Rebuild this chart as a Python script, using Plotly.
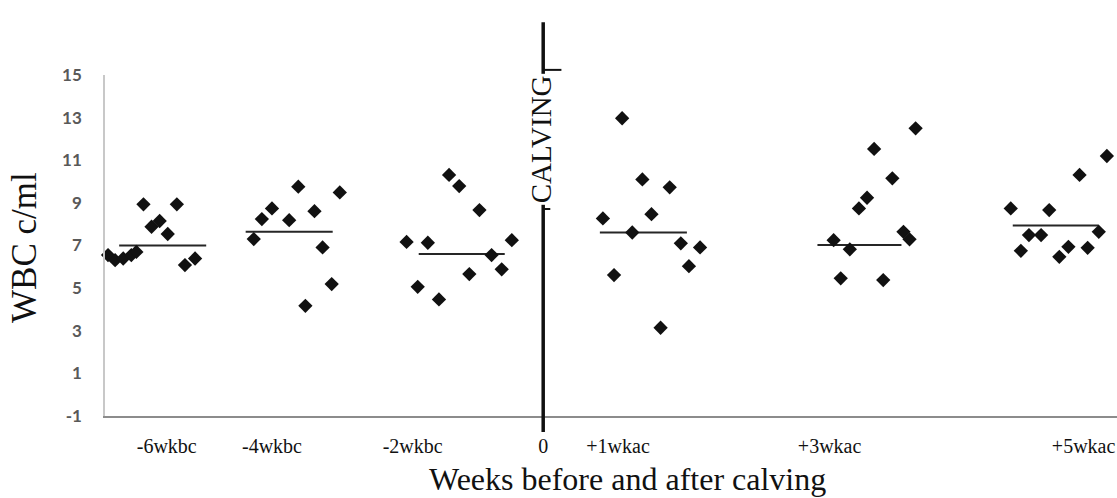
import plotly.graph_objects as go

# ---- data ----
group_names = ["-6wkbc", "-4wkbc", "-2wkbc", "+1wkac", "+3wkac", "+5wkac"]

g1_x = [3.8, 7.1, 4.6, 5.4, 6.2, 0.3, 1.0, 1.8, 2.6, 3.1, 7.9, 8.9]
g1_y = [8.93, 8.93, 7.88, 8.15, 7.54, 6.55, 6.31, 6.39, 6.55, 6.70, 6.08, 6.39]
g2_x = [19.1, 23.2, 16.5, 15.5, 18.2, 20.7, 14.7, 21.5, 22.4, 19.8]
g2_y = [9.76, 9.49, 8.74, 8.24, 8.19, 8.61, 7.30, 6.91, 5.19, 4.17]
g3_x = [34.0, 35.0, 37.0, 29.8, 31.9, 38.2, 40.2, 39.2, 36.0, 30.9, 33.0]
g3_y = [10.31, 9.79, 8.66, 7.17, 7.13, 6.55, 7.25, 5.88, 5.66, 5.06, 4.47]
g4_x = [51.1, 53.1, 55.8, 49.2, 54.0, 52.1, 56.9, 58.8, 57.7, 50.3, 54.9]
g4_y = [12.97, 10.10, 9.73, 8.27, 8.47, 7.61, 7.10, 6.91, 6.03, 5.61, 3.14]
g5_x = [80.1, 76.0, 77.8, 75.3, 74.5, 78.9, 79.5, 72.0, 73.6, 72.7, 76.9]
g5_y = [12.50, 11.53, 10.15, 9.24, 8.74, 7.64, 7.29, 7.25, 6.82, 5.46, 5.38]
g6_x = [99.0, 96.3, 89.5, 93.3, 91.3, 92.5, 98.2, 90.5, 95.2, 94.3, 97.1]
g6_y = [11.20, 10.31, 8.74, 8.66, 7.49, 7.49, 7.64, 6.75, 6.94, 6.47, 6.89]

mean_values = [7.0, 7.64, 6.60, 7.61, 7.02, 7.94]
mean_x_start = [1.4, 13.9, 31.0, 48.9, 70.4, 89.7]
mean_x_end = [10.0, 22.5, 39.5, 57.5, 78.7, 98.2]

calving_x = 43.3
tick_positions = [6.1, 16.5, 30.4, 43.3, 50.7, 71.6, 96.7]
tick_labels = ["-6wkbc", "-4wkbc", "-2wkbc", "0", "+1wkac", "+3wkac", "+5wkac"]
y_ticks = [-1, 1, 3, 5, 7, 9, 11, 13, 15]
y_tick_labels = ["-1", "1", "3", "5", "7", "9", "11", "13", "15"]

groups_x = [g1_x, g2_x, g3_x, g4_x, g5_x, g6_x]
groups_y = [g1_y, g2_y, g3_y, g4_y, g5_y, g6_y]

fig = go.Figure()

for name, gx, gy, m, xs, xe in zip(group_names, groups_x, groups_y,
                                   mean_values, mean_x_start, mean_x_end):
    fig.add_trace(go.Scatter(
        x=[xs, xe], y=[m, m], mode="lines",
        line=dict(color="#262626", width=2),
        showlegend=False, hoverinfo="skip"))
    fig.add_trace(go.Scatter(
        x=gx, y=gy, mode="markers", name=name,
        marker=dict(symbol="diamond", size=11, color="#111111"),
        cliponaxis=False, showlegend=False))

# calving line
fig.add_shape(type="line", xref="x", yref="paper",
              x0=calving_x, x1=calving_x, y0=-0.047, y1=1.155,
              line=dict(color="#111111", width=3.5))
# short dashes at the ends of the label box
fig.add_shape(type="line", xref="x", yref="paper",
              x0=calving_x, x1=calving_x + 1.8, y0=1.015, y1=1.015,
              line=dict(color="#111111", width=2))
fig.add_shape(type="line", xref="x", yref="paper",
              x0=calving_x, x1=calving_x + 0.7, y0=0.607, y1=0.607,
              line=dict(color="#111111", width=2))

fig.add_annotation(x=calving_x, xref="x", y=0.812, yref="paper",
                   xanchor="center", yanchor="middle",
                   text="CALVING", textangle=-90, showarrow=False,
                   font=dict(family="Liberation Serif", size=29, color="#111111"),
                   bgcolor="white", borderpad=1, xshift=-2)

fig.add_annotation(x=-0.079, xref="paper", y=0.493, yref="paper",
                   xanchor="center", yanchor="middle",
                   text="WBC c/ml", textangle=-90, showarrow=False,
                   font=dict(family="Liberation Serif", size=35, color="#111111"))
fig.add_annotation(x=0.516, xref="paper", y=-0.186, yref="paper",
                   xanchor="center", yanchor="middle",
                   text="Weeks before and after calving", showarrow=False,
                   font=dict(family="Liberation Serif", size=32, color="#111111"))

fig.update_xaxes(range=[0, 100], tickmode="array", tickvals=tick_positions,
                 ticktext=tick_labels, showgrid=False, zeroline=False,
                 showline=True, linecolor="#8c8c8c", linewidth=2,
                 ticks="", ticklabelstandoff=11,
                 tickfont=dict(family="Liberation Serif", size=20, color="#111111"))
fig.update_yaxes(range=[-1, 15], tickmode="array", tickvals=y_ticks,
                 ticktext=y_tick_labels,
                 showgrid=False, zeroline=False,
                 showline=True, linecolor="#c8c8c8", linewidth=1.5,
                 ticks="", ticklabelstandoff=18,
                 tickfont=dict(family="Lato", size=17, color="#595959", weight="bold"))

fig.update_layout(width=1117, height=498,
                  margin=dict(l=105, r=0, t=75, b=82),
                  paper_bgcolor="white", plot_bgcolor="white",
                  showlegend=False)

fig.write_html("out.html",
               config={"displayModeBar": False},
               post_script="document.body.style.margin='0px';"
                           "document.body.style.overflow='hidden';")
